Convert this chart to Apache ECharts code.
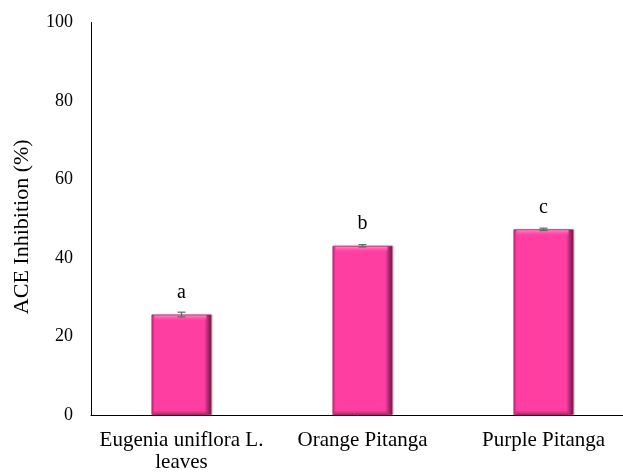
<!DOCTYPE html>
<html>
<head>
<meta charset="utf-8">
<script src="https://cdn.jsdelivr.net/npm/echarts@6/dist/echarts.min.js"></script>
<style>
  html, body { margin: 0; padding: 0; background: #fff; }
  #chart { width: 623px; height: 474px; }
</style>
</head>
<body>
<div id="chart"></div>
<script>
// ACE inhibition by sample
const categories = ['Eugenia uniflora L.\nleaves', 'Orange Pitanga', 'Purple Pitanga'];
const inhibition = [25.6, 43.1, 47.3];
const errors = [0.6, 0.3, 0.3];
const letters = ['a', 'b', 'c'];
const yTicks = [0, 20, 40, 60, 80, 100];

const serif = '"Liberation Serif", "Times New Roman", serif';
const BAR_W = 60;

const barFill = new echarts.graphic.LinearGradient(0, 0, 1, 0, [
  { offset: 0, color: '#D82E85' },
  { offset: 0.05, color: '#FF3EA2' },
  { offset: 0.88, color: '#FF3EA2' },
  { offset: 0.93, color: '#C02A78' },
  { offset: 1, color: '#5E1A3E' }
]);

const chart = echarts.init(document.getElementById('chart'));
chart.setOption({
  animation: false,
  // plot area runs a little past the right edge of the canvas
  grid: { left: 91, top: 22.5, width: 543, height: 392.5, outerBoundsMode: 'none', containLabel: false },
  xAxis: {
    type: 'category',
    data: categories,
    axisLine: { lineStyle: { color: '#000', width: 1 } },
    axisTick: { show: false },
    axisLabel: {
      color: '#000', fontFamily: serif, fontSize: 21, margin: 14, lineHeight: 22,
      interval: 0, hideOverlap: false
    }
  },
  yAxis: {
    type: 'value',
    min: 0, max: 100, interval: 20,
    name: 'ACE Inhibition (%)',
    nameLocation: 'middle',
    nameGap: 58,
    nameTextStyle: { color: '#000', fontFamily: serif, fontSize: 22, padding: [0, 16, 0, 0] },
    axisLine: { show: true, lineStyle: { color: '#000', width: 1 } },
    axisTick: { show: false },
    splitLine: { show: false },
    axisLabel: {
      color: '#000', fontFamily: serif, fontSize: 18, margin: 18,
      formatter: v => yTicks.includes(v) ? String(v) : ''
    }
  },
  series: [
    {
      type: 'bar',
      data: inhibition,
      barWidth: BAR_W,
      itemStyle: {
        color: barFill,
        borderColor: '#B02470',
        borderWidth: 0.8,
        shadowColor: 'rgba(0,0,0,0.25)',
        shadowBlur: 2,
        shadowOffsetX: 1
      },
      label: {
        show: true,
        position: 'top',
        distance: 12,
        color: '#000',
        fontFamily: serif,
        fontSize: 20,
        formatter: p => letters[p.dataIndex]
      },
      z: 2
    },
    {
      // bevel highlight along the top and shade along the bottom of each bar
      type: 'custom',
      renderItem: (params, api) => {
        const i = api.value(0);
        const top = api.coord([i, api.value(1)]);
        const base = api.coord([i, 0]);
        const x0 = top[0] - BAR_W / 2;
        return {
          type: 'group',
          children: [
            {
              type: 'rect',
              shape: { x: x0 + 3, y: top[1] + 1, width: BAR_W - 8, height: 6 },
              style: {
                fill: new echarts.graphic.LinearGradient(0, 0, 0, 1, [
                  { offset: 0, color: 'rgba(255,140,200,0.9)' },
                  { offset: 1, color: 'rgba(255,62,162,0)' }
                ])
              },
              silent: true
            },
            {
              type: 'rect',
              shape: { x: x0 + 2, y: base[1] - 5, width: BAR_W - 7, height: 5 },
              style: {
                fill: new echarts.graphic.LinearGradient(0, 0, 0, 1, [
                  { offset: 0, color: 'rgba(180,30,100,0)' },
                  { offset: 1, color: 'rgba(150,25,85,0.7)' }
                ])
              },
              silent: true
            }
          ]
        };
      },
      data: inhibition.map((v, i) => [i, v]),
      z: 3
    },
    {
      // standard deviation error bars
      type: 'custom',
      renderItem: (params, api) => {
        const i = api.value(0);
        const lo = api.coord([i, api.value(1) - api.value(2)]);
        const hi = api.coord([i, api.value(1) + api.value(2)]);
        const cap = 4;
        const st = { stroke: '#666', lineWidth: 1.2 };
        return {
          type: 'group',
          children: [
            { type: 'line', shape: { x1: lo[0], y1: lo[1], x2: hi[0], y2: hi[1] }, style: st },
            { type: 'line', shape: { x1: lo[0] - cap, y1: lo[1], x2: lo[0] + cap, y2: lo[1] }, style: st },
            { type: 'line', shape: { x1: hi[0] - cap, y1: hi[1], x2: hi[0] + cap, y2: hi[1] }, style: st }
          ]
        };
      },
      data: inhibition.map((v, i) => [i, v, errors[i]]),
      z: 4
    }
  ]
});
</script>
</body>
</html>
